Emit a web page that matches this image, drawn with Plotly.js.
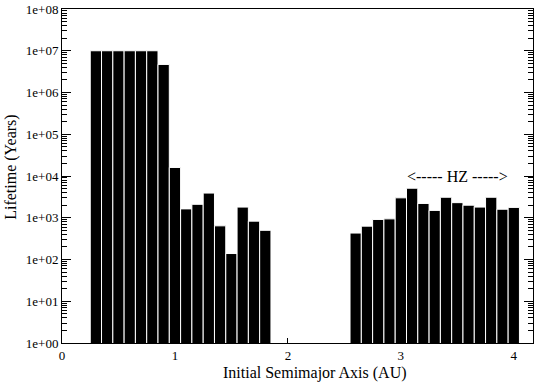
<!DOCTYPE html>
<html>
<head>
<meta charset="utf-8">
<script src="https://cdn.plot.ly/plotly-3.0.1.min.js"></script>
<style>
  html, body { margin: 0; padding: 0; background: #fff; }
  #plot { width: 546px; height: 382px; }
</style>
</head>
<body>
<div id="plot"></div>
<script>
// inner region bars (AU, years)
const innerA = [0.3, 0.4, 0.5, 0.6, 0.7, 0.8, 0.9, 1.0, 1.1, 1.2, 1.3, 1.4, 1.5, 1.6, 1.7, 1.8];
const innerLife = [1e7, 1e7, 1e7, 1e7, 1e7, 1e7, 4.7e6, 1.6e4, 1.63e3, 2.1e3, 3.9e3, 6.4e2, 1.39e2, 1.8e3, 8.3e2, 5.0e2];

// outer region bars
const outerA = [2.6, 2.7, 2.8, 2.9, 3.0, 3.1, 3.2, 3.3, 3.4, 3.5, 3.6, 3.7, 3.8, 3.9, 4.0];
const outerLife = [4.3e2, 6.3e2, 9.1e2, 9.4e2, 3.0e3, 5.1e3, 2.2e3, 1.5e3, 3.1e3, 2.3e3, 2.0e3, 1.8e3, 3.1e3, 1.6e3, 1.77e3];

const yTickVals = [1, 10, 100, 1e3, 1e4, 1e5, 1e6, 1e7, 1e8];
const yTickText = ["1e+00", "1e+01", "1e+02", "1e+03", "1e+04", "1e+05", "1e+06", "1e+07", "1e+08"];
const xTickVals = [0, 1, 2, 3, 4];

const xTitle = "Initial Semimajor Axis (AU)";
const yTitle = "Lifetime (Years)";
const hzLabel = "<----- HZ ----->";
const hzPos = [3.5, 1e4];

const serif = "'Liberation Serif', 'Times New Roman', Times, serif";

function esc(s){ return s.replace(/</g, "&lt;").replace(/>/g, "&gt;"); }

function barTrace(x, y){
  return {
    type: "bar",
    x: x, y: y,
    width: 0.1,
    marker: { color: "#000", line: { color: "#fff", width: 1 } },
    showlegend: false
  };
}

const traces = [barTrace(innerA, innerLife), barTrace(outerA, outerLife)];

const layout = {
  width: 546, height: 382,
  margin: { l: 62, r: 13, t: 9, b: 39 },
  paper_bgcolor: "#fff",
  plot_bgcolor: "#fff",
  font: { family: serif, color: "#000", size: 13 },
  bargap: 0,
  xaxis: {
    range: [0, 4.17],
    tickvals: xTickVals,
    ticks: "inside", ticklen: 5, tickcolor: "#000",
    showline: true, linecolor: "#000", linewidth: 1, mirror: true,
    showgrid: false, zeroline: false,
    tickfont: { size: 13 }
  },
  yaxis: {
    type: "log",
    range: [0, 8],
    tickvals: yTickVals, ticktext: yTickText,
    ticks: "inside", ticklen: 9, tickcolor: "#000",
    minor: { ticks: "inside", ticklen: 5, tickcolor: "#000", dtick: "D1", showgrid: false },
    showline: true, linecolor: "#000", linewidth: 1, mirror: "ticks",
    showgrid: false, zeroline: false,
    tickfont: { size: 13 }
  },
  annotations: [
    {
      x: hzPos[0], y: Math.log10(hzPos[1]), xref: "x", yref: "y",
      text: esc(hzLabel), showarrow: false, font: { size: 16 }
    },
    {
      // axis titles placed by hand, the original sits a bit off-centre
      x: 0.537, y: -0.058, xref: "paper", yref: "paper",
      xanchor: "center", yanchor: "top",
      text: xTitle, showarrow: false, font: { size: 16 }
    },
    {
      x: -0.11, y: 0.525, xref: "paper", yref: "paper",
      xanchor: "center", yanchor: "middle", textangle: -90,
      text: yTitle, showarrow: false, font: { size: 16 }
    }
  ]
};

Plotly.newPlot("plot", traces, layout, { staticPlot: true });
</script>
</body>
</html>
